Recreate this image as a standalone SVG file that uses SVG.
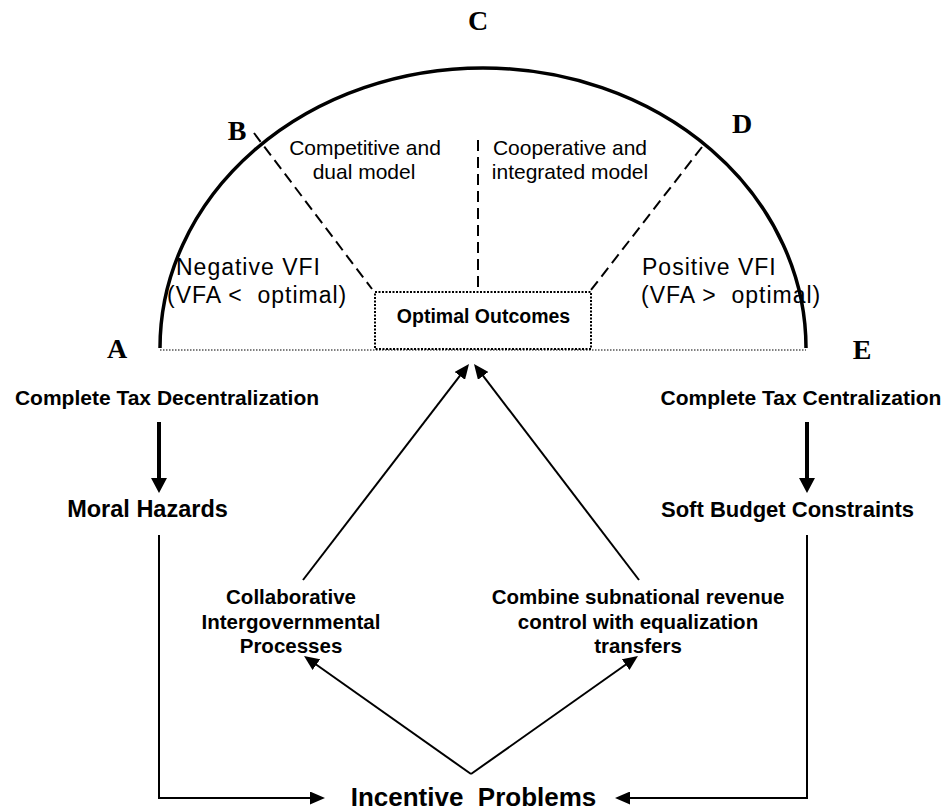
<svg xmlns="http://www.w3.org/2000/svg" width="948" height="812" viewBox="0 0 948 812">
  <style>
    .pt { font-family: "Liberation Serif", "Times New Roman", serif; font-weight: bold; font-size: 28px; text-anchor: middle; fill: #000; }
    .lbl { font-family: "Liberation Sans", Arial, sans-serif; font-weight: bold; fill: #000; text-anchor: middle; }
    .reg { font-family: "Liberation Sans", Arial, sans-serif; font-size: 21px; fill: #000; text-anchor: middle; }
    .vfi { font-family: "Liberation Sans", Arial, sans-serif; font-size: 23px; fill: #000; letter-spacing: 1px; }
    .arc { fill: none; stroke: #000; stroke-width: 3.5; }
    .dash { fill: none; stroke: #000; stroke-width: 2; stroke-dasharray: 11 6; }
    .base { fill: none; stroke: #000; stroke-width: 1.2; stroke-dasharray: 1.5 1.5; }
    .box { fill: none; stroke: #000; stroke-width: 2; stroke-dasharray: 2 1.5; }
    .thin { fill: none; stroke: #000; stroke-width: 2; }
    .thick { fill: none; stroke: #000; stroke-width: 4; }
  </style>
  <defs>
    <marker id="headThin" markerUnits="userSpaceOnUse" markerWidth="15" markerHeight="13" refX="5" refY="6.5" orient="auto">
      <path d="M0,0 L15,6.5 L0,13 z" fill="#000"/>
    </marker>
    <marker id="headThick" markerUnits="userSpaceOnUse" markerWidth="15" markerHeight="16" refX="5" refY="8" orient="auto">
      <path d="M0,0 L15,8 L0,16 z" fill="#000"/>
    </marker>
  </defs>

  <rect width="948" height="812" fill="#fff"/>

  <!-- half-ellipse spectrum of vertical fiscal imbalance -->
  <g id="spectrum">
    <path class="arc" d="M160,348 A323,280 0 0 1 806,348"/>
    <line class="base" x1="160" y1="350" x2="806" y2="350"/>
    <line class="dash" x1="254" y1="133" x2="372" y2="289"/>
    <line class="dash" x1="478" y1="140" x2="478" y2="288"/>
    <line class="dash" x1="702" y1="147" x2="591" y2="290"/>
    <text class="pt" x="117" y="358">A</text>
    <text class="pt" x="237" y="140">B</text>
    <text class="pt" x="478" y="30">C</text>
    <text class="pt" x="742" y="133">D</text>
    <text class="pt" x="862" y="359">E</text>
    <text class="reg" x="365" y="155">Competitive and<tspan x="364" y="179">dual model</tspan></text>
    <text class="reg" x="570" y="155">Cooperative and<tspan x="570" y="179">integrated model</tspan></text>
    <text class="vfi" x="176" y="275" xml:space="preserve">Negative VFI<tspan x="167" y="303">(VFA &lt;  optimal)</tspan></text>
    <text class="vfi" x="642" y="275" xml:space="preserve">Positive VFI<tspan x="641" y="303">(VFA &gt;  optimal)</tspan></text>
  </g>

  <g id="optimal-outcomes">
    <rect class="box" x="375" y="292" width="216" height="57"/>
    <text class="lbl" x="483.5" y="323" font-size="19.5">Optimal Outcomes</text>
  </g>

  <g id="tax-decentralization">
    <text class="lbl" x="167" y="405" font-size="21">Complete Tax Decentralization</text>
  </g>

  <g id="tax-centralization">
    <text class="lbl" x="801" y="405" font-size="21">Complete Tax Centralization</text>
  </g>

  <g id="moral-hazards">
    <text class="lbl" x="147.5" y="517" font-size="23.5">Moral Hazards</text>
  </g>

  <g id="soft-budget">
    <text class="lbl" x="787.5" y="517" font-size="22">Soft Budget Constraints</text>
  </g>

  <g id="collaborative">
    <text class="lbl" x="291" y="604" font-size="20.5">Collaborative<tspan x="291" y="629">Intergovernmental</tspan><tspan x="291" y="653">Processes</tspan></text>
  </g>

  <g id="equalization">
    <text class="lbl" x="638" y="604" font-size="20.5">Combine subnational revenue<tspan x="638" y="629">control with equalization</tspan><tspan x="638" y="653">transfers</tspan></text>
  </g>

  <g id="incentive-problems">
    <text class="lbl" x="473.5" y="806" font-size="26" xml:space="preserve">Incentive  Problems</text>
  </g>

  <!-- connectors -->
  <g id="connectors">
    <line class="thick" x1="159" y1="422" x2="159" y2="483" marker-end="url(#headThick)"/>
    <line class="thick" x1="807" y1="422" x2="807" y2="483" marker-end="url(#headThick)"/>
    <polyline class="thin" points="159,535 159,798 315,798" marker-end="url(#headThin)"/>
    <polyline class="thin" points="807,535 807,798 625,798" marker-end="url(#headThin)"/>
    <line class="thin" x1="471" y1="774" x2="312.2" y2="661.8" marker-end="url(#headThin)"/>
    <line class="thin" x1="471" y1="774" x2="629.8" y2="661.8" marker-end="url(#headThin)"/>
    <line class="thin" x1="303" y1="580" x2="462.9" y2="371.9" marker-end="url(#headThin)"/>
    <line class="thin" x1="639" y1="580" x2="480.1" y2="371.9" marker-end="url(#headThin)"/>
  </g>
</svg>
